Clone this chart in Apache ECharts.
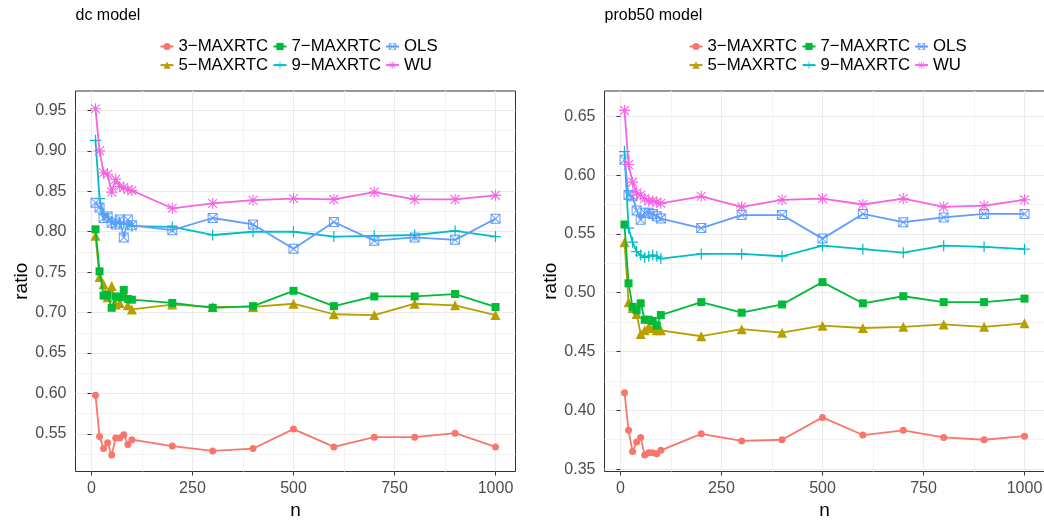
<!DOCTYPE html>
<html><head><meta charset="utf-8">
<script src="https://cdn.jsdelivr.net/npm/echarts@6/dist/echarts.min.js"></script>
<style>html,body{margin:0;padding:0;background:#fff}#c{width:1044px;height:521px}</style>
</head><body><div id="c"></div>
<script>
// ---- data ----
const nValues = [10,20,30,40,50,60,70,80,90,100,200,300,400,500,600,700,800,900,1000];
const seriesNames = ['3\u2212MAXRTC','5\u2212MAXRTC','7\u2212MAXRTC','9\u2212MAXRTC','OLS','WU'];
const panelTitles = ['dc model','prob50 model'];

const dc3   = [0.598,0.547,0.532,0.539,0.524,0.545,0.545,0.549,0.537,0.543,0.535,0.529,0.532,0.556,0.534,0.546,0.546,0.551,0.534];
const dc5   = [0.795,0.744,0.735,0.719,0.733,0.710,0.712,0.722,0.709,0.704,0.710,0.707,0.707,0.711,0.698,0.697,0.711,0.709,0.697];
const dc7   = [0.803,0.751,0.721,0.722,0.706,0.720,0.719,0.728,0.717,0.716,0.712,0.706,0.708,0.727,0.708,0.720,0.720,0.723,0.707];
const dc9   = [0.913,0.841,0.822,0.818,0.812,0.810,0.812,0.810,0.809,0.807,0.806,0.796,0.800,0.800,0.794,0.795,0.796,0.801,0.794];
const dcOLS = [0.836,0.830,0.817,0.819,0.811,0.809,0.815,0.793,0.815,0.808,0.802,0.817,0.809,0.779,0.812,0.789,0.793,0.790,0.816];
const dcWU  = [0.952,0.900,0.873,0.871,0.849,0.865,0.856,0.855,0.852,0.851,0.829,0.835,0.839,0.841,0.840,0.849,0.840,0.840,0.845];

const pr3   = [0.415,0.383,0.365,0.373,0.377,0.362,0.364,0.364,0.363,0.366,0.380,0.374,0.375,0.394,0.379,0.383,0.377,0.375,0.378];
const pr5   = [0.543,0.492,0.487,0.482,0.465,0.468,0.471,0.470,0.468,0.468,0.463,0.469,0.466,0.472,0.470,0.471,0.473,0.471,0.474];
const pr7   = [0.558,0.508,0.488,0.485,0.491,0.477,0.477,0.476,0.472,0.481,0.492,0.483,0.490,0.509,0.491,0.497,0.492,0.492,0.495];
const pr9   = [0.620,0.555,0.543,0.535,0.532,0.530,0.531,0.532,0.531,0.529,0.533,0.533,0.531,0.540,0.537,0.534,0.540,0.539,0.537];
const prOLS = [0.613,0.583,0.582,0.570,0.562,0.568,0.568,0.567,0.565,0.563,0.555,0.566,0.566,0.546,0.567,0.560,0.564,0.567,0.567];
const prWU  = [0.655,0.609,0.594,0.585,0.583,0.580,0.578,0.578,0.577,0.576,0.582,0.573,0.579,0.580,0.575,0.580,0.573,0.574,0.579];

const xTicks = [0,250,500,750,1000];
const xMinor = [125,375,625,875];
const dcYTicks = [0.55,0.60,0.65,0.70,0.75,0.80,0.85,0.90,0.95];
const dcYMinor = [0.525,0.575,0.625,0.675,0.725,0.775,0.825,0.875,0.925];
const prYTicks = [0.35,0.40,0.45,0.50,0.55,0.60,0.65];
const prYMinor = [0.375,0.425,0.475,0.525,0.575,0.625];

// ---- styles ----
const colors = ['#F8766D','#B79F00','#00BA38','#00BFC4','#619CFF','#F564E3'];
const plusPath = 'path://M4.45,0H5.55V4.45H10V5.55H5.55V10H4.45V5.55H0V4.45H4.45Z';
const olsPath = 'path://M0,0H10V10H0Z M1,1V9H9V1Z M0,0.7L0.7,0L10,9.3L9.3,10Z M9.3,0L10,0.7L0.7,10L0,9.3Z';
const starPath = 'path://M0,4.5H10V5.5H0Z M4.5,0H5.5V10H4.5Z M1.35,0.65L9.35,8.65L8.65,9.35L0.65,1.35Z M8.65,0.65L9.35,1.35L1.35,9.35L0.65,8.65Z';
const symbols = ['circle','triangle','rect',plusPath,olsPath,starPath];
const symbolSizes = [7,10,8,11,10,11];

const FONT = '"Liberation Sans", Arial, sans-serif';
const gridTop = 91, gridH = 380.5, gridW = 440;
const panels = [
  {left:75.5, yMin:0.5036, yMax:0.974, yTicks:dcYTicks, yMinor:dcYMinor, data:[dc3,dc5,dc7,dc9,dcOLS,dcWU]},
  {left:604.5, yMin:0.348, yMax:0.6715, yTicks:prYTicks, yMinor:prYMinor, data:[pr3,pr5,pr7,pr9,prOLS,prWU]}
];
const xMin = -39.5, xMax = 1049.5;

const grid = [], xAxis = [], yAxis = [], series = [], title = [], legend = [];
panels.forEach((p, g) => {
  grid.push({left:p.left, top:gridTop, width:gridW, height:gridH, show:true,
    borderColor:'#333333', borderWidth:1, backgroundColor:'#ffffff',
    containLabel:false, outerBoundsMode:'none'});
  // major x
  xAxis.push({gridIndex:g, type:'value', min:xMin, max:xMax, position:'bottom',
    axisLine:{show:false},
    axisTick:{show:true, length:4, lineStyle:{color:'#333333', width:1}, customValues:xTicks},
    axisLabel:{customValues:xTicks, color:'#4d4d4d', fontSize:16, margin:9, fontFamily:FONT,
      formatter:(v)=>String(v)},
    splitLine:{show:true, lineStyle:{color:'#ebebeb', width:1}},
    name:'n', nameLocation:'middle', nameGap:26,
    nameTextStyle:{fontSize:19, color:'#000', fontFamily:FONT}});
  // minor x
  xAxis.push({gridIndex:g, type:'value', min:xMin, max:xMax, position:'top',
    axisLine:{show:false}, axisTick:{show:false, customValues:xMinor},
    axisLabel:{show:false, customValues:xMinor},
    splitLine:{show:true, lineStyle:{color:'#f3f3f3', width:1}}});
  // major y
  yAxis.push({gridIndex:g, type:'value', min:p.yMin, max:p.yMax, position:'left',
    axisLine:{show:false},
    axisTick:{show:true, length:4, lineStyle:{color:'#333333', width:1}, customValues:p.yTicks},
    axisLabel:{customValues:p.yTicks, color:'#4d4d4d', fontSize:16, margin:9, fontFamily:FONT,
      formatter:(v)=>Number(v).toFixed(2)},
    splitLine:{show:true, lineStyle:{color:'#ebebeb', width:1}},
    name:'ratio', nameLocation:'middle', nameGap:41,
    nameTextStyle:{fontSize:19, color:'#000', fontFamily:FONT}});
  // minor y
  yAxis.push({gridIndex:g, type:'value', min:p.yMin, max:p.yMax, position:'right',
    axisLine:{show:false}, axisTick:{show:false, customValues:p.yMinor},
    axisLabel:{show:false, customValues:p.yMinor},
    splitLine:{show:true, lineStyle:{color:'#f3f3f3', width:1}}});

  seriesNames.forEach((name, k) => {
    series.push({name, type:'line', xAxisIndex:2*g, yAxisIndex:2*g,
      data:nValues.map((n,i)=>[n, p.data[k][i]]),
      symbol:symbols[k], symbolSize:symbolSizes[k], showSymbol:true,
      lineStyle:{color:colors[k], width:1.8},
      itemStyle:{color:colors[k], borderWidth:0},
      emphasis:{disabled:true}, animation:false, z:2+k});
  });

  title.push({text:panelTitles[g], left:p.left, top:8, padding:0,
    textStyle:{fontSize:16, fontWeight:'normal', color:'#000', fontFamily:FONT}});

  const colLefts = [159.5, 272.5, 385];
  [[0,1],[2,3],[4,5]].forEach((pair, c) => {
    legend.push({data:pair.map(i=>seriesNames[i]), orient:'vertical',
      left:p.left - 75.5 + colLefts[c], top:38, padding:0,
      itemWidth:13, itemHeight:9, itemGap:1.6, selectedMode:false,
      textStyle:{fontSize:16.8, color:'#000', fontFamily:FONT, lineHeight:16}});
  });
});

const chart = echarts.init(document.getElementById('c'), null, {renderer:'canvas'});
chart.setOption({animation:false, backgroundColor:'#fff', textStyle:{fontFamily:FONT},
  title, legend, grid, xAxis, yAxis, series});
</script>
</body></html>
